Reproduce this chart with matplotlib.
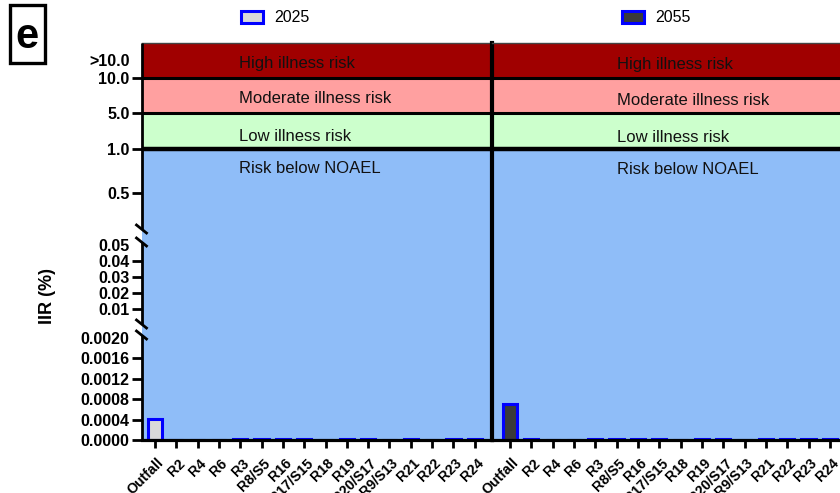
import numpy as np
import matplotlib
matplotlib.use("Agg")
import matplotlib.pyplot as plt
from matplotlib.patches import Rectangle
import matplotlib.transforms as mtransforms

plt.rcParams['font.family'] = ['Liberation Sans', 'DejaVu Sans']

sites = ['Outfall', 'R2', 'R4', 'R6', 'R3', 'R8/S5', 'R16', 'R17/S15', 'R18',
         'R19', 'R20/S17', 'R9/S13', 'R21', 'R22', 'R23', 'R24']
iir_2025 = [0.00042, 0.000008, 0, 0, 0.000015, 0.000015, 0.000015, 0.000015, 0,
            0.000015, 0.000015, 0, 0.000015, 0.000008, 0.000015, 0.000015]
iir_2055 = [0.0007, 0.00001, 0, 0, 0.00002, 0.00002, 0.00002, 0.00002, 0,
            0.00002, 0.00002, 0, 0.00002, 0.00001, 0.00002, 0.00002]

band_edges = [0, 1.0, 5.0, 10.0, 20.0]
band_names = ['Risk below NOAEL', 'Low illness risk', 'Moderate illness risk', 'High illness risk']
band_colors = ['#8fbdf8', '#ccffcc', '#ffa0a0', '#a00000']

yticks = [0, 0.0004, 0.0008, 0.0012, 0.0016, 0.0020, 0.01, 0.02, 0.03, 0.04, 0.05,
          0.5, 1.0, 5.0, 10.0, 15.0]
ytick_labels = ['0.0000', '0.0004', '0.0008', '0.0012', '0.0016', '0.0020',
                '0.01', '0.02', '0.03', '0.04', '0.05', '0.5', '1.0', '5.0', '10.0', '>10.0']

# segmented y axis: each value and its height (px above the baseline)
seg_vals = [0, 0.002, 0.01, 0.05, 0.5, 1.0, 5.0, 10.0, 20.0]
seg_pos = [0, 102, 130.7, 195.1, 247.3, 291.3, 326.7, 362.3, 397.3]


def fwd(v):
    return np.interp(np.asarray(v, dtype=float), seg_vals, seg_pos)


def inv(p):
    return np.interp(np.asarray(p, dtype=float), seg_pos, seg_vals)


W, H = 840, 493
fig = plt.figure(figsize=(W / 100, H / 100), dpi=100)
AX_H = 397.3
AX_W = 492 - 141.5
ax1 = fig.add_axes([141.5 / W, (H - 440) / H, AX_W / W, AX_H / H])
ax2 = fig.add_axes([492 / W, (H - 440) / H, (893 - 492) / W, AX_H / H])

x = np.arange(len(sites))
panels = [
    (ax1, iir_2025, '2025', '#d9d9d9', (-0.633, 15.81), 3.92, [0.72, 1.9, 6.4, 12.7], 241),
    (ax2, iir_2055, '2055', '#3a3a3a', (-0.844, 17.96), 5.02, [0.716, 1.79, 6.12, 12.4], 622),
]

for ax, vals, year, fill, xl, tx, ty, leg_x in panels:
    ax.set_yscale('function', functions=(fwd, inv))
    ax.set_ylim(0, 20)
    ax.set_xlim(*xl)

    for lo, hi, c in zip(band_edges[:-1], band_edges[1:], band_colors):
        ax.axhspan(lo, hi, color=c, lw=0, zorder=0)
    for v, lw in [(1.0, 3.2), (5.0, 2.2), (10.0, 2.2)]:
        ax.axhline(v, color='black', lw=lw, zorder=2)
    for name, yv in zip(band_names, ty):
        ax.text(tx, yv, name, ha='left', va='baseline', fontsize=12, color='#111111')

    ax.bar(x, vals, 0.67, color=fill, edgecolor='#0000ff', linewidth=2.2, label=year, zorder=1)

    ax.set_xticks(x)
    ax.set_xticklabels(sites, rotation=45, ha='right', va='top', rotation_mode='anchor',
                       fontweight='bold', fontsize=10.2)
    ax.tick_params(axis='x', length=6, width=2, pad=5.5)
    shift = mtransforms.ScaledTranslation(1.5 / 100, 0, fig.dpi_scale_trans)
    for lab in ax.get_xticklabels():
        lab.set_transform(lab.get_transform() + shift)

    ax.spines['right'].set_visible(False)
    ax.spines['top'].set_linewidth(1)
    ax.spines['top'].set_color('#444444')
    ax.spines['bottom'].set_linewidth(2.3)

    ax.legend(loc='center left', bbox_to_anchor=(leg_x / W, 1 - 18 / H),
              bbox_transform=fig.transFigure, frameon=False, fontsize=11.5,
              handlelength=1.4, handleheight=0.7, handletextpad=0.7,
              borderpad=0, borderaxespad=0)

# left panel: y ticks on the segmented axis
ax1.set_yticks(yticks)
ax1.set_yticklabels(ytick_labels, fontweight='bold', fontsize=11.5)
ax1.yaxis.set_minor_locator(matplotlib.ticker.NullLocator())
ax1.tick_params(axis='y', length=7, width=2, pad=1.5)
for tk, lab in zip(ax1.yaxis.get_major_ticks(), ytick_labels):
    if lab in ('0.0020', '0.05', '>10.0'):
        tk.tick1line.set_visible(False)

# broken y spine with slash marks
ax1.spines['left'].set_visible(False)
for a, b in [(0, 105), (116, 198), (211, AX_H)]:
    ax1.plot([0, 0], [a / AX_H, b / AX_H], transform=ax1.transAxes, color='black',
             lw=2, clip_on=False, solid_capstyle='butt', zorder=5)
for p in [105, 116, 198, 211]:
    ax1.plot([-5 / AX_W, 5 / AX_W], [(p + 4) / AX_H, (p - 4) / AX_H],
             transform=ax1.transAxes, color='black', lw=2, clip_on=False, zorder=5)

# right panel: divider spine, no y labels
ax2.tick_params(axis='y', left=False, labelleft=False, which='both')
ax2.spines['left'].set_linewidth(3)

fig.text(47 / W, 1 - 296 / H, 'IIR (%)', rotation=90, fontweight='bold', fontsize=13,
         ha='center', va='center')

fig.patches.append(Rectangle((9.5 / W, 1 - 62.5 / H), 35.5 / W, 57.5 / H, fill=False,
                             lw=2.4, color='black', transform=fig.transFigure))
fig.text(27 / W, 1 - 48 / H, 'e', fontweight='bold', fontsize=30, ha='center', va='baseline')

fig.savefig('out.png', dpi=100)
